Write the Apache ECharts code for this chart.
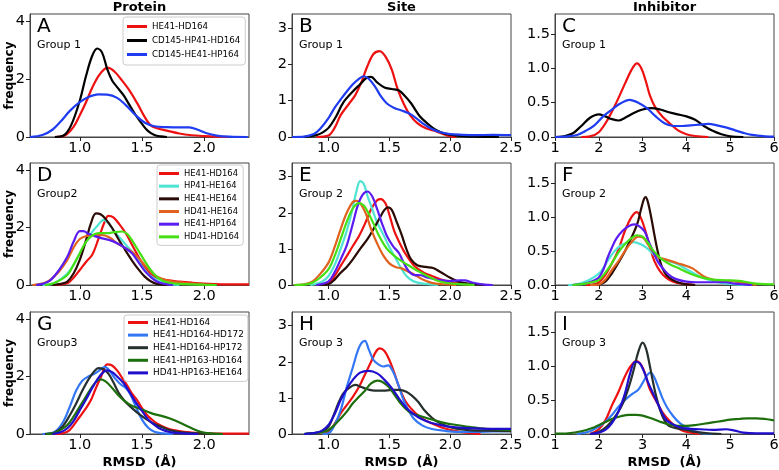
<!DOCTYPE html>
<html>
<head>
<meta charset="utf-8">
<script src="https://cdn.jsdelivr.net/npm/echarts@6/dist/echarts.min.js"></script>
<style>
html,body{margin:0;padding:0;background:#fff;}
#main{width:779px;height:470px;}
</style>
</head>
<body>
<div id="main"></div>
<script>
// density curves, [RMSD, frequency]

// A - protein, group 1
var aRed = [[0.8,0],[0.88,0.05],[0.95,0.35],[1.0,0.75],[1.05,1.2],[1.1,1.7],[1.15,2.1],[1.2,2.35],[1.23,2.38],[1.28,2.25],[1.33,2.0],[1.4,1.6],[1.47,1.1],[1.52,0.7],[1.57,0.4],[1.62,0.3],[1.7,0.22],[1.8,0.12],[1.9,0.06],[2.0,0.03],[2.1,0.01],[2.2,0]];
var aBlack = [[0.8,0],[0.87,0.05],[0.93,0.4],[1.0,1.25],[1.05,2.1],[1.1,2.8],[1.14,3.05],[1.18,2.9],[1.22,2.35],[1.26,1.95],[1.3,1.72],[1.35,1.45],[1.4,1.1],[1.45,0.75],[1.5,0.45],[1.55,0.2],[1.6,0.07],[1.65,0.02],[1.7,0]];
var aBlue = [[0.6,0],[0.7,0.07],[0.78,0.25],[0.85,0.55],[0.92,0.9],[1.0,1.2],[1.07,1.38],[1.15,1.47],[1.22,1.46],[1.3,1.35],[1.37,1.1],[1.45,0.75],[1.52,0.5],[1.6,0.37],[1.7,0.34],[1.8,0.33],[1.88,0.33],[1.95,0.25],[2.02,0.13],[2.1,0.05],[2.2,0.01],[2.35,0]];

// B - site, group 1
var bRed = [[0.9,0],[1.0,0.04],[1.05,0.25],[1.1,0.6],[1.17,0.92],[1.22,1.15],[1.27,1.5],[1.32,1.95],[1.37,2.28],[1.42,2.36],[1.47,2.2],[1.52,1.85],[1.57,1.3],[1.62,0.9],[1.67,0.6],[1.73,0.38],[1.8,0.24],[1.87,0.17],[1.93,0.1],[2.0,0.02],[2.05,0]];
var bBlack = [[0.8,0],[0.9,0.05],[0.95,0.12],[1.0,0.25],[1.06,0.55],[1.12,0.94],[1.2,1.25],[1.26,1.45],[1.31,1.62],[1.35,1.65],[1.4,1.5],[1.46,1.36],[1.52,1.32],[1.58,1.28],[1.63,1.12],[1.68,0.92],[1.75,0.57],[1.82,0.35],[1.88,0.2],[1.95,0.1],[2.05,0.04],[2.2,0.01],[2.4,0]];
var bBlue = [[0.7,0],[0.8,0.01],[0.88,0.08],[0.93,0.22],[1.0,0.52],[1.05,0.8],[1.1,1.03],[1.15,1.25],[1.2,1.45],[1.25,1.6],[1.29,1.67],[1.33,1.6],[1.38,1.4],[1.43,1.12],[1.48,0.92],[1.54,0.8],[1.6,0.73],[1.66,0.65],[1.72,0.52],[1.78,0.36],[1.85,0.22],[1.92,0.13],[2.0,0.08],[2.1,0.06],[2.2,0.05],[2.35,0.06],[2.5,0.05]];

// C - inhibitor, group 1
var cRed = [[1.6,0],[1.8,0.01],[2.0,0.07],[2.2,0.25],[2.4,0.5],[2.6,0.78],[2.75,0.98],[2.87,1.07],[2.97,1.0],[3.07,0.82],[3.17,0.6],[3.3,0.42],[3.45,0.3],[3.6,0.21],[3.8,0.1],[4.0,0.04],[4.2,0.015],[4.5,0]];
var cBlack = [[1.0,0],[1.2,0.01],[1.4,0.05],[1.6,0.16],[1.8,0.28],[2.0,0.33],[2.15,0.3],[2.3,0.26],[2.45,0.24],[2.6,0.28],[2.8,0.35],[3.0,0.4],[3.2,0.42],[3.4,0.4],[3.6,0.36],[3.8,0.33],[4.0,0.3],[4.2,0.25],[4.4,0.16],[4.6,0.09],[4.8,0.04],[5.0,0.01],[5.3,0]];
var cBlue = [[1.0,0],[1.3,0.01],[1.5,0.03],[1.7,0.09],[1.9,0.17],[2.1,0.3],[2.3,0.4],[2.5,0.49],[2.7,0.54],[2.9,0.5],[3.1,0.42],[3.3,0.3],[3.5,0.2],[3.7,0.16],[3.9,0.16],[4.1,0.17],[4.3,0.18],[4.5,0.19],[4.7,0.17],[4.9,0.14],[5.1,0.1],[5.3,0.06],[5.5,0.03],[5.8,0.01],[6.0,0.005]];

// D - protein, group 2
var dRed = [[0.8,0],[0.9,0.06],[0.95,0.25],[1.0,0.52],[1.05,0.8],[1.1,1.05],[1.15,1.6],[1.2,2.2],[1.23,2.4],[1.27,2.35],[1.32,2.1],[1.37,1.8],[1.42,1.4],[1.47,1.0],[1.52,0.62],[1.57,0.38],[1.62,0.25],[1.7,0.17],[1.8,0.12],[1.9,0.08],[2.0,0.05],[2.2,0.02],[2.36,0.02]];
var dCyan = [[0.7,0],[0.8,0.08],[0.9,0.4],[0.95,0.7],[1.0,1.1],[1.05,1.5],[1.1,1.85],[1.15,2.1],[1.19,2.26],[1.23,2.15],[1.28,1.85],[1.33,1.6],[1.38,1.35],[1.44,1.05],[1.5,0.65],[1.55,0.38],[1.6,0.22],[1.65,0.1],[1.7,0.05],[1.8,0]];
var dBrown = [[0.78,0],[0.85,0.04],[0.9,0.12],[0.95,0.4],[1.0,0.87],[1.05,1.55],[1.09,2.15],[1.13,2.49],[1.17,2.45],[1.21,2.28],[1.26,1.98],[1.31,1.6],[1.36,1.25],[1.42,0.85],[1.47,0.55],[1.52,0.3],[1.57,0.13],[1.62,0.04],[1.7,0]];
var dOrange = [[0.62,0],[0.7,0.05],[0.76,0.17],[0.83,0.45],[0.9,0.87],[0.95,1.3],[1.0,1.6],[1.05,1.7],[1.1,1.73],[1.17,1.74],[1.24,1.65],[1.3,1.45],[1.36,1.3],[1.42,1.15],[1.48,0.9],[1.54,0.6],[1.6,0.35],[1.66,0.22],[1.75,0.12],[1.85,0.07],[1.95,0.03],[2.05,0]];
var dViolet = [[0.65,0],[0.7,0.04],[0.76,0.15],[0.83,0.5],[0.9,0.98],[0.95,1.5],[1.0,1.87],[1.03,1.87],[1.07,1.78],[1.12,1.7],[1.18,1.62],[1.24,1.56],[1.3,1.45],[1.36,1.3],[1.42,1.1],[1.47,0.8],[1.52,0.5],[1.57,0.28],[1.62,0.12],[1.68,0.04],[1.75,0]];
var dLime = [[0.72,0],[0.8,0.08],[0.9,0.35],[0.95,0.7],[1.0,1.1],[1.05,1.5],[1.1,1.72],[1.15,1.8],[1.22,1.8],[1.28,1.84],[1.34,1.86],[1.38,1.78],[1.42,1.55],[1.47,1.2],[1.52,0.85],[1.57,0.52],[1.62,0.28],[1.67,0.14],[1.75,0.06],[1.85,0.03],[2.0,0.01],[2.1,0]];

// E - site, group 2
var eRed = [[0.95,0],[1.0,0.05],[1.05,0.25],[1.1,0.53],[1.15,0.8],[1.2,1.08],[1.25,1.35],[1.3,1.7],[1.35,2.1],[1.4,2.35],[1.43,2.38],[1.47,2.25],[1.5,1.95],[1.54,1.5],[1.58,1.2],[1.63,0.88],[1.7,0.55],[1.78,0.35],[1.85,0.25],[1.92,0.16],[2.0,0.08],[2.1,0.03],[2.2,0]];
var eCyan = [[0.85,0],[0.95,0.1],[1.0,0.25],[1.05,0.55],[1.1,1.0],[1.15,1.5],[1.19,2.0],[1.23,2.6],[1.26,2.88],[1.29,2.8],[1.32,2.47],[1.36,2.1],[1.4,1.73],[1.45,1.4],[1.5,1.05],[1.55,0.75],[1.6,0.45],[1.64,0.25],[1.7,0.1],[1.8,0.03],[1.9,0]];
var eBrown = [[0.92,0],[1.0,0.02],[1.05,0.15],[1.1,0.34],[1.15,0.5],[1.2,0.71],[1.26,1.0],[1.32,1.27],[1.37,1.55],[1.42,1.85],[1.46,2.08],[1.49,2.15],[1.52,2.08],[1.56,1.75],[1.6,1.4],[1.64,1.0],[1.68,0.7],[1.73,0.55],[1.8,0.5],[1.86,0.47],[1.92,0.36],[2.0,0.2],[2.08,0.08],[2.2,0.02],[2.3,0]];
var eOrange = [[0.72,0],[0.8,0.02],[0.87,0.1],[0.93,0.3],[1.0,0.62],[1.05,1.05],[1.1,1.55],[1.15,2.0],[1.2,2.3],[1.23,2.33],[1.27,2.22],[1.31,1.95],[1.35,1.55],[1.4,1.15],[1.45,0.82],[1.5,0.6],[1.55,0.5],[1.6,0.46],[1.65,0.38],[1.7,0.3],[1.77,0.16],[1.85,0.06],[1.95,0.02],[2.05,0]];
var eViolet = [[0.9,0],[1.0,0.1],[1.05,0.35],[1.1,0.71],[1.15,1.1],[1.2,1.7],[1.24,2.2],[1.28,2.5],[1.32,2.59],[1.36,2.45],[1.4,2.1],[1.44,1.7],[1.48,1.36],[1.53,1.08],[1.58,0.88],[1.62,0.6],[1.66,0.38],[1.7,0.28],[1.76,0.27],[1.82,0.2],[1.9,0.14],[2.0,0.11],[2.08,0.13],[2.12,0.13],[2.18,0.07],[2.28,0.01],[2.35,0]];
var eLime = [[0.72,0],[0.8,0.01],[0.87,0.07],[0.93,0.2],[1.0,0.44],[1.05,0.8],[1.1,1.27],[1.15,1.75],[1.2,2.12],[1.25,2.27],[1.29,2.2],[1.33,1.98],[1.37,1.7],[1.41,1.4],[1.46,1.1],[1.5,0.93],[1.56,0.76],[1.62,0.62],[1.68,0.5],[1.74,0.38],[1.8,0.27],[1.88,0.14],[1.95,0.07],[2.05,0.03],[2.2,0]];

// F - inhibitor, group 2
var fRed = [[1.7,0],[1.9,0.01],[2.0,0.04],[2.15,0.15],[2.3,0.32],[2.45,0.52],[2.6,0.8],[2.75,1.0],[2.87,1.07],[2.97,0.97],[3.07,0.78],[3.17,0.55],[3.27,0.35],[3.4,0.2],[3.55,0.1],[3.7,0.05],[3.9,0.02],[4.2,0]];
var fCyan = [[1.3,0],[1.5,0.01],[1.73,0.06],[1.9,0.12],[2.05,0.2],[2.2,0.35],[2.35,0.49],[2.5,0.58],[2.65,0.62],[2.8,0.63],[2.95,0.6],[3.1,0.54],[3.25,0.45],[3.4,0.39],[3.55,0.36],[3.7,0.33],[3.85,0.29],[4.0,0.23],[4.2,0.16],[4.4,0.1],[4.6,0.06],[4.8,0.03],[5.1,0.01],[5.4,0]];
var fBrown = [[1.8,0],[2.0,0.01],[2.15,0.05],[2.3,0.17],[2.45,0.33],[2.6,0.5],[2.75,0.7],[2.88,0.9],[2.96,1.1],[3.03,1.26],[3.07,1.29],[3.12,1.22],[3.2,0.98],[3.28,0.7],[3.36,0.45],[3.45,0.25],[3.55,0.14],[3.7,0.07],[3.85,0.03],[4.0,0.01],[4.2,0]];
var fOrange = [[1.8,0],[2.0,0.01],[2.15,0.08],[2.3,0.22],[2.45,0.35],[2.6,0.5],[2.75,0.63],[2.9,0.71],[3.0,0.7],[3.1,0.62],[3.22,0.5],[3.35,0.41],[3.5,0.38],[3.65,0.35],[3.8,0.32],[4.0,0.28],[4.15,0.24],[4.3,0.17],[4.45,0.11],[4.6,0.08],[4.8,0.06],[5.0,0.06],[5.2,0.04],[5.4,0.02],[5.6,0]];
var fViolet = [[1.4,0],[1.7,0.02],[1.9,0.07],[2.0,0.11],[2.1,0.22],[2.2,0.4],[2.3,0.55],[2.4,0.68],[2.55,0.8],[2.7,0.87],[2.83,0.89],[2.95,0.85],[3.05,0.78],[3.15,0.62],[3.25,0.48],[3.35,0.34],[3.48,0.23],[3.6,0.15],[3.75,0.09],[4.0,0.05],[4.3,0.04],[4.6,0.04],[4.9,0.04],[5.1,0.02],[5.5,0]];
var fLime = [[1.4,0],[1.7,0.02],[1.9,0.05],[2.0,0.07],[2.15,0.18],[2.3,0.32],[2.45,0.48],[2.6,0.6],[2.75,0.69],[2.87,0.73],[3.0,0.71],[3.12,0.62],[3.25,0.5],[3.4,0.4],[3.55,0.33],[3.7,0.28],[3.85,0.24],[4.0,0.19],[4.2,0.14],[4.4,0.1],[4.6,0.08],[4.9,0.07],[5.2,0.06],[5.4,0.04],[5.6,0.02],[6.0,0.01]];

// G - protein, group 3
var gRed = [[0.8,0],[0.9,0.08],[0.95,0.3],[1.0,0.6],[1.05,0.9],[1.09,1.18],[1.13,1.6],[1.17,1.98],[1.22,2.42],[1.26,2.38],[1.3,2.21],[1.34,1.95],[1.38,1.69],[1.42,1.4],[1.46,1.18],[1.5,0.9],[1.54,0.66],[1.58,0.5],[1.62,0.37],[1.7,0.2],[1.8,0.1],[1.9,0.05],[2.0,0.02],[2.2,0.01],[2.36,0.01]];
var gSky = [[0.7,0],[0.8,0.08],[0.87,0.45],[0.92,0.95],[0.97,1.5],[1.02,1.85],[1.07,2.0],[1.12,2.1],[1.17,2.25],[1.2,2.33],[1.24,2.2],[1.28,1.95],[1.33,1.72],[1.37,1.6],[1.41,1.35],[1.45,0.95],[1.5,0.5],[1.55,0.22],[1.6,0.08],[1.67,0.02],[1.75,0]];
var gSlate = [[0.72,0],[0.8,0.05],[0.86,0.25],[0.92,0.65],[0.97,1.05],[1.02,1.5],[1.07,1.9],[1.12,2.2],[1.15,2.29],[1.19,2.25],[1.23,2.1],[1.27,1.8],[1.31,1.45],[1.36,1.15],[1.42,0.9],[1.48,0.68],[1.54,0.5],[1.6,0.35],[1.66,0.24],[1.72,0.14],[1.8,0.07],[1.9,0.03],[2.0,0.01],[2.1,0]];
var gGreen = [[0.73,0],[0.8,0.04],[0.85,0.15],[0.9,0.31],[0.95,0.6],[1.0,0.95],[1.05,1.3],[1.1,1.65],[1.14,1.85],[1.17,1.9],[1.21,1.82],[1.26,1.6],[1.31,1.35],[1.36,1.15],[1.41,1.0],[1.47,0.9],[1.53,0.8],[1.59,0.7],[1.65,0.64],[1.72,0.55],[1.78,0.44],[1.84,0.32],[1.9,0.2],[1.97,0.08],[2.05,0.02],[2.15,0]];
var gIndigo = [[0.78,0],[0.85,0.07],[0.9,0.2],[0.95,0.45],[1.0,0.83],[1.05,1.2],[1.1,1.6],[1.15,1.95],[1.19,2.15],[1.22,2.21],[1.26,2.15],[1.3,2.0],[1.35,1.78],[1.4,1.45],[1.45,1.1],[1.5,0.8],[1.55,0.5],[1.6,0.32],[1.65,0.17],[1.72,0.07],[1.8,0.03],[1.95,0]];

// H - site, group 3
var hRed = [[0.95,0],[1.0,0.05],[1.05,0.28],[1.1,0.57],[1.15,0.8],[1.2,1.03],[1.25,1.3],[1.3,1.65],[1.35,2.0],[1.39,2.28],[1.42,2.37],[1.46,2.3],[1.5,2.05],[1.54,1.7],[1.58,1.3],[1.63,0.92],[1.68,0.7],[1.74,0.5],[1.8,0.37],[1.88,0.25],[1.95,0.16],[2.05,0.08],[2.15,0.03],[2.25,0]];
var hSky = [[0.95,0],[1.0,0.02],[1.05,0.25],[1.1,0.66],[1.15,1.3],[1.2,1.85],[1.24,2.3],[1.27,2.52],[1.3,2.58],[1.33,2.35],[1.37,2.05],[1.41,1.93],[1.45,1.87],[1.49,1.9],[1.53,1.73],[1.57,1.4],[1.61,1.0],[1.65,0.7],[1.7,0.43],[1.77,0.24],[1.85,0.14],[1.95,0.09],[2.05,0.06],[2.2,0.06],[2.35,0.07],[2.5,0.08]];
var hSlate = [[0.8,0],[0.9,0.03],[0.95,0.08],[1.0,0.2],[1.04,0.5],[1.08,0.85],[1.12,1.12],[1.17,1.28],[1.22,1.36],[1.27,1.3],[1.32,1.24],[1.38,1.2],[1.45,1.2],[1.52,1.22],[1.58,1.22],[1.64,1.17],[1.69,1.05],[1.74,0.88],[1.79,0.65],[1.85,0.45],[1.9,0.33],[1.97,0.22],[2.05,0.15],[2.15,0.11],[2.3,0.09],[2.5,0.08]];
var hGreen = [[0.8,0],[0.9,0.03],[0.95,0.05],[1.0,0.11],[1.05,0.25],[1.1,0.43],[1.15,0.62],[1.2,0.85],[1.25,1.03],[1.3,1.2],[1.35,1.4],[1.4,1.48],[1.44,1.45],[1.49,1.32],[1.54,1.1],[1.6,0.82],[1.66,0.62],[1.72,0.53],[1.8,0.45],[1.88,0.37],[1.96,0.3],[2.05,0.25],[2.15,0.2],[2.25,0.16],[2.38,0.13],[2.5,0.11]];
var hIndigo = [[0.8,0],[0.9,0.04],[0.95,0.1],[1.0,0.25],[1.05,0.55],[1.1,0.94],[1.15,1.25],[1.2,1.5],[1.26,1.7],[1.33,1.75],[1.4,1.68],[1.46,1.5],[1.52,1.27],[1.58,0.98],[1.64,0.72],[1.7,0.55],[1.76,0.42],[1.84,0.31],[1.92,0.25],[2.0,0.2],[2.1,0.17],[2.25,0.15],[2.4,0.14],[2.5,0.14]];

// I - inhibitor, group 3
var iRed = [[1.8,0],[2.0,0.07],[2.15,0.2],[2.3,0.42],[2.45,0.62],[2.6,0.85],[2.73,1.0],[2.86,1.07],[2.96,1.02],[3.06,0.88],[3.15,0.68],[3.25,0.55],[3.35,0.44],[3.45,0.32],[3.6,0.2],[3.75,0.11],[3.9,0.05],[4.1,0.02],[4.3,0]];
var iSky = [[1.5,0],[1.8,0.04],[2.0,0.11],[2.15,0.18],[2.3,0.28],[2.45,0.4],[2.6,0.5],[2.75,0.58],[2.9,0.65],[3.0,0.75],[3.1,0.86],[3.18,0.9],[3.26,0.84],[3.35,0.7],[3.45,0.53],[3.55,0.4],[3.7,0.26],[3.85,0.16],[4.0,0.1],[4.2,0.04],[4.4,0.01],[4.6,0]];
var iSlate = [[1.8,0],[2.0,0.03],[2.2,0.12],[2.4,0.28],[2.55,0.45],[2.7,0.72],[2.8,0.95],[2.9,1.2],[3.0,1.34],[3.08,1.25],[3.15,1.05],[3.22,0.82],[3.3,0.58],[3.4,0.35],[3.5,0.2],[3.6,0.12],[3.8,0.08],[4.0,0.06],[4.2,0.03],[4.5,0.01],[4.8,0]];
var iGreen = [[1.0,0.005],[1.3,0.01],[1.6,0.04],[1.9,0.1],[2.1,0.16],[2.3,0.22],[2.5,0.26],[2.7,0.28],[2.85,0.28],[3.0,0.27],[3.2,0.23],[3.4,0.18],[3.6,0.14],[3.8,0.12],[4.0,0.12],[4.2,0.13],[4.4,0.15],[4.6,0.17],[4.8,0.19],[5.0,0.21],[5.2,0.22],[5.4,0.23],[5.6,0.23],[5.8,0.22],[6.0,0.2]];
var iIndigo = [[1.8,0],[2.0,0.02],[2.15,0.06],[2.3,0.16],[2.45,0.33],[2.6,0.6],[2.72,0.9],[2.83,1.06],[2.93,1.04],[3.03,0.92],[3.13,0.75],[3.25,0.58],[3.35,0.44],[3.45,0.3],[3.55,0.2],[3.7,0.14],[3.85,0.1],[4.0,0.08],[4.3,0.07],[4.6,0.06],[4.9,0.07],[5.1,0.05],[5.3,0.02],[5.6,0.01],[6.0,0.01]];

// names per group (legend order = drawing order)
var group1Names = ['HE41-HD164', 'CD145-HP41-HD164', 'CD145-HE41-HP164'];
var group2Names = ['HE41-HD164', 'HP41-HE164', 'HE41-HE164', 'HD41-HE164', 'HE41-HP164', 'HD41-HD164'];
var group3Names = ['HE41-HD164', 'HE41-HD164-HD172', 'HE41-HD164-HP172', 'HE41-HP163-HD164', 'HD41-HP163-HE164'];

var columnTitles = ['Protein', 'Site', 'Inhibitor'];
var panelLetters = ['A', 'B', 'C', 'D', 'E', 'F', 'G', 'H', 'I'];
var groupLabels = ['Group 1', 'Group 1', 'Group 1', 'Group2', 'Group 2', 'Group 2', 'Group3', 'Group 3', 'Group 3'];

var xTicks = [[1.0, 1.5, 2.0], [1.0, 1.5, 2.0, 2.5], [1, 2, 3, 4, 5, 6]];
var yTicks = [[0, 2, 4], [0, 1, 2, 3], [0, 0.5, 1.0, 1.5]];
var xRange = [[0.6, 2.36], [0.7, 2.5], [1, 6]];
var yMax = [4.24, 3.38, 1.79];

// ---------------------------------------------------------------

var rowNames = [group1Names, group2Names, group3Names];
var panelData = [
    [aRed, aBlack, aBlue], [bRed, bBlack, bBlue], [cRed, cBlack, cBlue],
    [dRed, dCyan, dBrown, dOrange, dViolet, dLime], [eRed, eCyan, eBrown, eOrange, eViolet, eLime], [fRed, fCyan, fBrown, fOrange, fViolet, fLime],
    [gRed, gSky, gSlate, gGreen, gIndigo], [hRed, hSky, hSlate, hGreen, hIndigo], [iRed, iSky, iSlate, iGreen, iIndigo]
];

var colorOf = {
    'HE41-HD164': '#ee1111',
    'CD145-HP41-HD164': '#000000',
    'CD145-HE41-HP164': '#1f3cf0',
    'HP41-HE164': '#4ee3d3',
    'HE41-HE164': '#2a0b05',
    'HD41-HE164': '#e0621e',
    'HE41-HP164': '#5a1cf0',
    'HD41-HD164': '#44e014',
    'HE41-HD164-HD172': '#3377f5',
    'HE41-HD164-HP172': '#26302f',
    'HE41-HP163-HD164': '#1d6e0c',
    'HD41-HP163-HE164': '#200ecc'
};

var FONT = 'DejaVu Sans';
var colLeft = [30, 292, 555];
var rowTop = [14, 163, 312];
var rowHeight = [123, 122, 122];
var plotWidth = 219;

var grids = [], xAxes = [], yAxes = [], series = [], graphics = [];

function fmtX(c){
    return function(v){ return c === 2 ? String(v) : v.toFixed(1); };
}
function fmtY(c){
    return function(v){ return c === 2 ? v.toFixed(1) : String(v); };
}

for(var r = 0; r < 3; r++){
    for(var c = 0; c < 3; c++){
        var p = r * 3 + c;
        grids.push({
            left: colLeft[c], top: rowTop[r], width: plotWidth, height: rowHeight[r],
            show: true, borderColor: '#444', borderWidth: 1,
            containLabel: false, outerBoundsMode: 'none'
        });
        xAxes.push({
            gridIndex: p, type: 'value', min: xRange[c][0], max: xRange[c][1],
            axisLine: {show: true, onZero: false, lineStyle: {color: '#444', width: 1}},
            axisTick: {show: true, length: 4, inside: false, customValues: xTicks[c], lineStyle: {color: '#222'}},
            axisLabel: {show: true, customValues: xTicks[c], formatter: fmtX(c), fontSize: 14.5, color: '#000', margin: 4, fontFamily: FONT},
            splitLine: {show: false},
            name: r === 2 ? 'RMSD  (\u00c5)' : '',
            nameLocation: 'middle', nameGap: 22, nameMoveOverlap: false,
            nameTextStyle: {fontSize: 13, fontWeight: 'bold', color: '#000', fontFamily: FONT}
        });
        yAxes.push({
            gridIndex: p, type: 'value', min: 0, max: yMax[c],
            axisLine: {show: true, onZero: false, lineStyle: {color: '#444', width: 1}},
            axisTick: {show: true, length: 4, inside: false, customValues: yTicks[c], lineStyle: {color: '#222'}},
            axisLabel: {show: true, customValues: yTicks[c], formatter: fmtY(c), fontSize: 14.5, color: '#000', margin: 5, fontFamily: FONT},
            splitLine: {show: false},
            name: c === 0 ? 'frequency' : '',
            nameLocation: 'middle', nameGap: 14, nameRotate: 90, nameMoveOverlap: false,
            nameTextStyle: {fontSize: 12, fontWeight: 'bold', color: '#000', fontFamily: FONT}
        });
        var names = rowNames[r];
        for(var k = 0; k < names.length; k++){
            series.push({
                type: 'line', name: names[k],
                xAxisIndex: p, yAxisIndex: p,
                data: panelData[p][k],
                smooth: 0.35, symbol: 'none', showSymbol: false,
                lineStyle: {width: 2.2, color: colorOf[names[k]]},
                itemStyle: {color: colorOf[names[k]]},
                z: 2 + k, silent: true
            });
        }
        graphics.push({
            type: 'text', x: colLeft[c] + 7, y: rowTop[r] + 13,
            style: {text: panelLetters[p], fill: '#000', fontSize: 20, fontFamily: FONT, verticalAlign: 'middle', align: 'left'}
        });
        graphics.push({
            type: 'text', x: colLeft[c] + 7, y: rowTop[r] + 31,
            style: {text: groupLabels[p], fill: '#000', fontSize: 11, fontFamily: FONT, verticalAlign: 'middle', align: 'left'}
        });
    }
}

for(var t = 0; t < 3; t++){
    graphics.push({
        type: 'text', x: colLeft[t] + plotWidth / 2, y: 8,
        style: {text: columnTitles[t], fill: '#000', fontSize: 13, fontWeight: 'bold', fontFamily: FONT, verticalAlign: 'middle', align: 'center'}
    });
}

function legendBox(names, left, top, font, lineH, gap, pad){
    return {
        data: names, orient: 'vertical', left: left, top: top,
        icon: 'rect', itemWidth: 20, itemHeight: 3, itemGap: gap,
        padding: pad, selectedMode: false,
        backgroundColor: 'rgba(255,255,255,0.85)', borderColor: '#cccccc', borderWidth: 1, borderRadius: 3,
        textStyle: {fontSize: font, lineHeight: lineH, color: '#000', fontFamily: FONT}
    };
}

var option = {
    animation: false,
    backgroundColor: '#ffffff',
    grid: grids,
    xAxis: xAxes,
    yAxis: yAxes,
    legend: [
        legendBox(group1Names, 123, 17, 8.7, 13, 1, [3, 5, 4, 4]),
        legendBox(group2Names, 157, 165, 8.4, 11, 1.67, [3, 4, 3, 2]),
        legendBox(group3Names, 124, 315, 8.9, 11, 1.6, [2, 4, 3, 4])
    ],
    graphic: graphics,
    series: series
};

var chart = echarts.init(document.getElementById('main'), null, {renderer: 'canvas'});
chart.setOption(option);
</script>
</body>
</html>
